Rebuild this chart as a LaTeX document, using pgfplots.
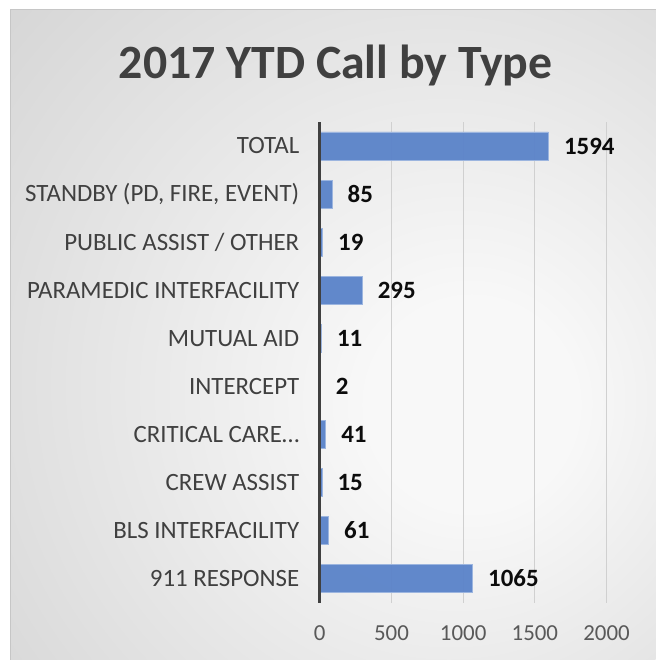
\documentclass[border=0pt]{standalone}
\usepackage{pgfplots}
\pgfplotsset{compat=1.18}
\usepackage{fontspec}
\setmainfont{Carlito}
\definecolor{bgin}{HTML}{F8F8F8}
\definecolor{bgout}{HTML}{C2C2C2}
\definecolor{barblue}{HTML}{5A83C9}
\definecolor{txtgray}{HTML}{404040}
\definecolor{tickgray}{HTML}{595959}
\definecolor{gridgray}{HTML}{D0D0D0}
\pgfdeclareradialshading{bgshade}{\pgfpoint{12bp}{-6bp}}{color(0bp)=(bgin); color(8bp)=(bgin); color(62bp)=(bgout); color(80bp)=(bgout)}
\begin{document}
\begin{tikzpicture}[x=1bp,y=1bp]
\fill[white] (0,0) rectangle (656,660);
\shade[shading=bgshade] (11,0) rectangle (656,650);
\draw[color=gray!45, line width=1bp] (11,0) -- (11,650) -- (656,650);
\node[font=\fontsize{48}{50}\selectfont\bfseries, text=txtgray, anchor=base] at (336,581) {2017 YTD Call by Type};
\begin{axis}[
  at={(320bp,57bp)}, anchor=south west,
  scale only axis, width=287bp, height=481bp,
  xbar, bar width=28bp,
  xmin=0, xmax=2000, ymin=-0.5, ymax=9.5,
  xtick={0,500,1000,1500,2000},
  ytick={0,...,9},
  yticklabels={911 RESPONSE, BLS INTERFACILITY, CREW ASSIST, CRITICAL CARE\ldots, INTERCEPT, MUTUAL AID, PARAMEDIC INTERFACILITY, PUBLIC ASSIST / OTHER, {STANDBY (PD, FIRE, EVENT)}, TOTAL},
  xmajorgrids, grid style={gridgray, line width=1bp},
  axis line style={draw=none},
  major tick length=0pt,
  /pgf/number format/assume math mode=true,
  /pgf/number format/1000 sep={},
  xticklabel style={font=\fontsize{23}{24}\selectfont, text=tickgray, yshift=-20bp},
  yticklabel style={font=\fontsize{25}{26}\selectfont, text=txtgray, xshift=-17bp},
  nodes near coords,
  nodes near coords style={font=\fontsize{25}{26}\selectfont\bfseries, text=black, anchor=west, xshift=12bp},
  point meta=x,
  clip=false,
]
\addplot[fill=barblue, draw=barblue!60!white, line width=0.8bp, fill opacity=0.95] coordinates {
(1065,0) (61,1) (15,2) (41,3) (2,4) (11,5) (295,6) (19,7) (85,8) (1594,9)};
\draw[color=txtgray, line width=3bp] (axis cs:0,-0.5) -- (axis cs:0,9.5);
\end{axis}
\end{tikzpicture}
\end{document}
